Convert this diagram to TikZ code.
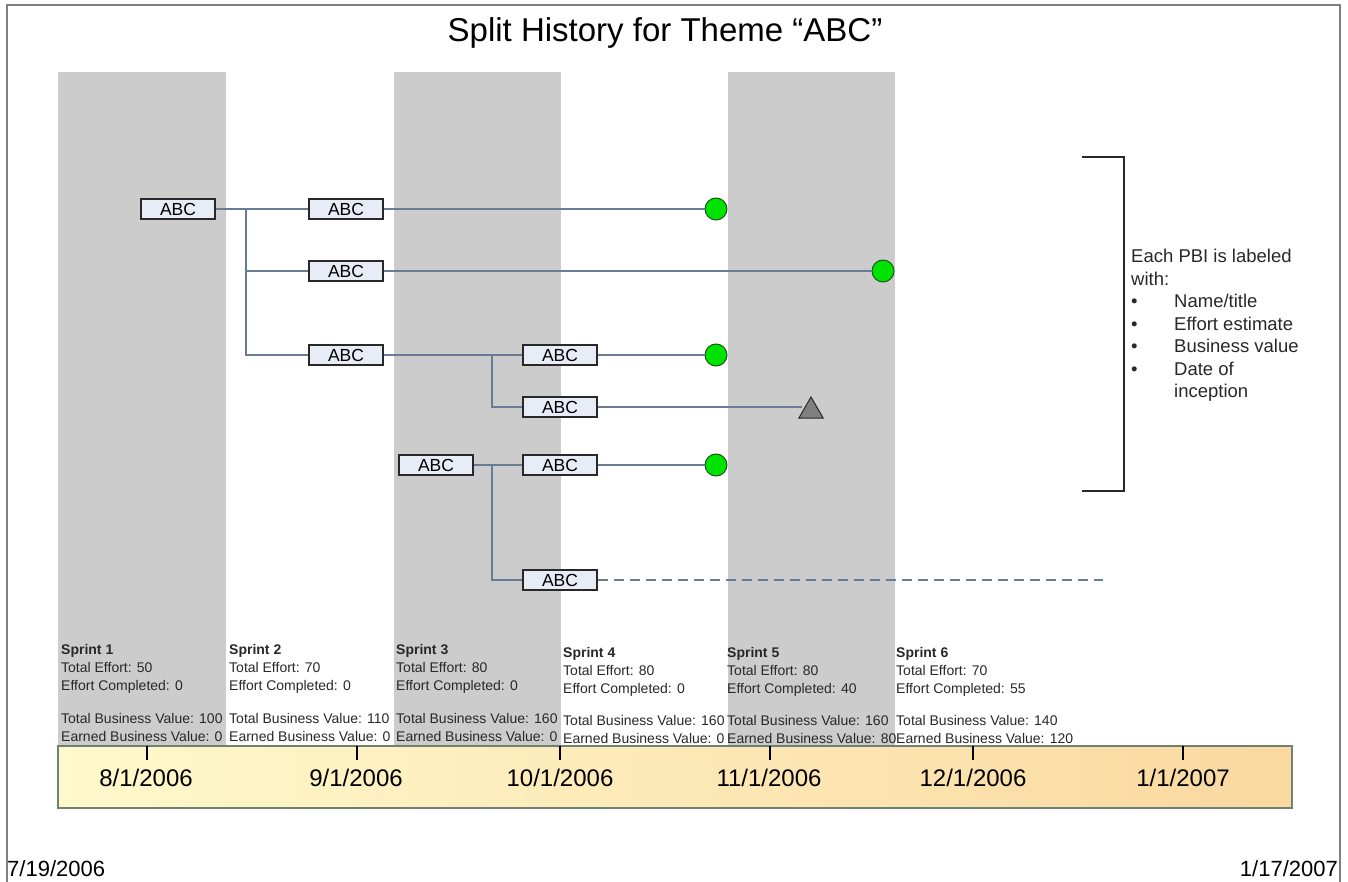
\documentclass[tikz,border=0pt]{standalone}
\usepackage{fontspec}
\setmainfont{Liberation Sans}
\usepackage{tikz}
\usetikzlibrary{shapes.geometric, positioning, calc}
\definecolor{mygray}{RGB}{204,204,204}
\definecolor{mylink}{RGB}{104,124,152}
\definecolor{myboxfill}{RGB}{232,236,246}
\definecolor{mydark}{RGB}{40,40,40}
\definecolor{mygreen}{RGB}{0,226,0}
\definecolor{mydkgreen}{RGB}{20,90,20}
\definecolor{mytri}{RGB}{128,128,128}
\definecolor{tlleft}{RGB}{255,249,204}
\definecolor{tlright}{RGB}{250,216,160}
\definecolor{tlborder}{RGB}{110,130,115}
\definecolor{myframe}{RGB}{128,128,128}
\tikzset{
  pbi/.style={rectangle, draw=mydark, fill=myboxfill,
    minimum width=74pt, minimum height=20pt, inner sep=0pt,
    font=\fontsize{17.5}{19}\selectfont, line width=1.2pt},
  done/.style={circle, draw=mydkgreen, fill=mygreen,
    minimum size=22pt, inner sep=0pt, line width=1pt},
  pending/.style={regular polygon, regular polygon sides=3, draw=mydark,
    fill=mytri, minimum size=28pt, inner sep=0pt, line width=1pt},
  link/.style={line width=1.3pt, color=mylink},
  dashlink/.style={link, dash pattern=on 10pt off 6pt},
  sprintlbl/.style={anchor=north west, align=left, inner sep=0pt,
    font=\fontsize{14}{18}\selectfont, text=mydark},
  datelbl/.style={font=\fontsize{24}{28}\selectfont},
  tickline/.style={line width=1.2pt, color=black}
}

\begin{document}
\begin{tikzpicture}[x=1pt, y=-1pt, on grid]
  \useasboundingbox (0,0) rectangle (1348,882);
  % frame and sprint columns
  \draw[myframe, line width=2pt] (7,882) -- (7,5) -- (1340,5) -- (1340,882);
  \fill[mygray] (58,72) rectangle (226,746);
  \fill[mygray] (394,72) rectangle (561,746);
  \fill[mygray] (728,72) rectangle (895,746);
  \node[font=\fontsize{33}{38}\selectfont] (title) at (665,33) {Split History for Theme “ABC”};

  % PBI boxes
  \node[pbi] (b1) at (178,209) {ABC};
  \node[pbi, right=168pt of b1] (b2) {ABC};
  \node[pbi, below=62pt of b2] (b3) {ABC};
  \node[pbi, below=84pt of b3] (b4) {ABC};
  \node[pbi, right=214pt of b4] (b5) {ABC};
  \node[pbi, below=52pt of b5] (b6) {ABC};
  \node[pbi, below=58pt of b6] (b8) {ABC};
  \node[pbi, left=124pt of b8] (b7) {ABC};
  \node[pbi, below=115pt of b8] (b9) {ABC};

  % end states
  \node[done] (c1) at (716,209) {};
  \node[done] (c2) at (883,271) {};
  \node[done] (c3) at (716,355) {};
  \node[done] (c4) at (716,465) {};
  \node[pending] (t1) at (811,411) {};
  \coordinate (open) at (1103,580);

  % splits
  \coordinate (s1) at (246,209);
  \coordinate (s2) at (492,355);
  \coordinate (s3) at (492,465);
  \draw[link] (b1) -- (b2);
  \draw[link] (s1) |- (b3);
  \draw[link] (s1) |- (b4);
  \draw[link] (b4) -- (b5);
  \draw[link] (s2) |- (b6);
  \draw[link] (b7) -- (b8);
  \draw[link] (s3) |- (b9);
  \draw[link] (b2) -- (c1);
  \draw[link] (b3) -- (c2);
  \draw[link] (b5) -- (c3);
  \draw[link] (b6.east) -- (b6.east -| t1.west);
  \draw[link] (b8) -- (c4);
  \draw[dashlink] (b9.east) -- (open);

  % legend
  \draw[mydark, line width=2pt] (1082,157) -- (1124,157) -- (1124,491) -- (1082,491);
  \node[anchor=north west, align=left, inner sep=0pt, text=mydark,
    font=\fontsize{18.5}{22.5}\selectfont] (note) at (1131,249)
    {Each PBI is labeled\\with:\\
     \makebox[43pt][l]{\textbullet}Name/title\\
     \makebox[43pt][l]{\textbullet}Effort estimate\\
     \makebox[43pt][l]{\textbullet}Business value\\
     \makebox[43pt][l]{\textbullet}Date of\\
     \hspace*{43pt}inception};

  % sprint figures
  \node[sprintlbl] (sp1) at (61,644) {\textbf{Sprint 1}\\Total Effort: 50\\Effort Completed: 0\\[15pt]Total Business Value: 100\\Earned Business Value: 0};
  \node[sprintlbl] (sp2) at (229,644) {\textbf{Sprint 2}\\Total Effort: 70\\Effort Completed: 0\\[15pt]Total Business Value: 110\\Earned Business Value: 0};
  \node[sprintlbl] (sp3) at (396,644) {\textbf{Sprint 3}\\Total Effort: 80\\Effort Completed: 0\\[15pt]Total Business Value: 160\\Earned Business Value: 0};
  \node[sprintlbl] (sp4) at (563,647) {\textbf{Sprint 4}\\Total Effort: 80\\Effort Completed: 0\\[14pt]Total Business Value: 160\\Earned Business Value: 0};
  \node[sprintlbl] (sp5) at (727,647) {\textbf{Sprint 5}\\Total Effort: 80\\Effort Completed: 40\\[14pt]Total Business Value: 160\\Earned Business Value: 80};
  \node[sprintlbl] (sp6) at (896,647) {\textbf{Sprint 6}\\Total Effort: 70\\Effort Completed: 55\\[14pt]Total Business Value: 140\\Earned Business Value: 120};

  % timeline
  \shade[left color=tlleft, right color=tlright] (58,746) rectangle (1292,808);
  \draw[tlborder, line width=1.5pt] (58,746) rectangle (1292,808);
  \draw[tickline] (147,746) -- (147,760);
  \draw[tickline] (357,746) -- (357,760);
  \draw[tickline] (560,746) -- (560,760);
  \draw[tickline] (770,746) -- (770,760);
  \draw[tickline] (973,746) -- (973,760);
  \draw[tickline] (1183,746) -- (1183,760);
  \node[datelbl] (d1) at (146,778) {8/1/2006};
  \node[datelbl] (d2) at (356,778) {9/1/2006};
  \node[datelbl] (d3) at (560,778) {10/1/2006};
  \node[datelbl] (d4) at (769,778) {11/1/2006};
  \node[datelbl] (d5) at (973,778) {12/1/2006};
  \node[datelbl] (d6) at (1183,778) {1/1/2007};
  \node[anchor=west, inner sep=0pt, font=\fontsize{22}{26}\selectfont] (start) at (7,869) {7/19/2006};
  \node[anchor=east, inner sep=0pt, font=\fontsize{22}{26}\selectfont] (finish) at (1338,869) {1/17/2007};
\end{tikzpicture}
\end{document}
